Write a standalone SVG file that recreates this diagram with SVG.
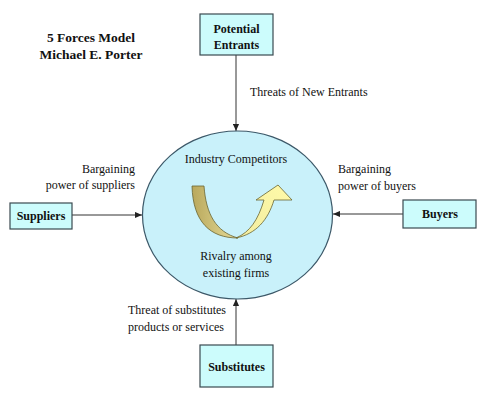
<svg xmlns="http://www.w3.org/2000/svg" width="488" height="400" viewBox="0 0 488 400">
<style>
text{font-family:"Liberation Serif","Times New Roman",serif;fill:#111;}
.b{font-weight:bold;font-size:12px;text-anchor:middle;}
.t{font-weight:bold;font-size:13.5px;text-anchor:middle;}
.l{font-size:12px;}
.box{fill:#ccfcfc;stroke:#3a4a50;stroke-width:1.2;}
.con{stroke:#333;stroke-width:1;fill:none;marker-end:url(#ah);}
</style>
<defs>
<marker id="ah" viewBox="0 0 8 8" refX="8" refY="4" markerWidth="7" markerHeight="7" markerUnits="userSpaceOnUse" orient="auto"><path d="M0,0.5 L8,4 L0,7.5 Z" fill="#222"/></marker>
<linearGradient id="g1" x1="0" y1="0" x2="1" y2="0"><stop offset="0" stop-color="#b9a85c"/><stop offset="1" stop-color="#e6dc98"/></linearGradient>
<linearGradient id="g2" x1="0" y1="1" x2="1" y2="0"><stop offset="0" stop-color="#f2eca0"/><stop offset="1" stop-color="#fffaa8"/></linearGradient>
</defs>
<rect width="488" height="400" fill="#fff"/>
<g id="title">
<text class="t" x="91" y="42">5 Forces Model</text>
<text class="t" x="91" y="59">Michael E. Porter</text>
</g>
<g id="connectors">
<line class="con" x1="236" y1="55" x2="236" y2="131"/>
<line class="con" x1="72" y1="215" x2="142" y2="215"/>
<line class="con" x1="403" y1="214" x2="333" y2="214"/>
<line class="con" x1="236" y1="345" x2="236" y2="299"/>
</g>
<g id="industry">
<ellipse cx="237.5" cy="215" rx="95" ry="84" fill="#c9f1fa" stroke="#3c5868" stroke-width="1.2"/>
<text class="l" x="236" y="163" text-anchor="middle">Industry Competitors</text>
<path d="M192,186 L204,186 C206,214 216,232 238,238 C210,238 193,222 192,186 Z" fill="url(#g1)" stroke="#6a6430" stroke-width="0.8"/>
<path d="M236,238 C256,234 268,220 274,200 L292,200 L278,185 L256,200 L264,200 C258,220 250,232 236,238 Z" fill="url(#g2)" stroke="#6a6430" stroke-width="0.8"/>
<text class="l" x="236" y="260" text-anchor="middle">Rivalry among</text>
<text class="l" x="236" y="277" text-anchor="middle">existing firms</text>
</g>
<g id="entrants">
<rect class="box" x="200" y="14" width="73" height="41"/>
<text class="b" x="236.5" y="33">Potential</text>
<text class="b" x="236.5" y="49">Entrants</text>
<text class="l" x="250" y="96">Threats of New Entrants</text>
</g>
<g id="suppliers">
<rect class="box" x="10" y="203" width="62" height="26"/>
<text class="b" x="41" y="220">Suppliers</text>
<text class="l" x="135" y="173" text-anchor="end">Bargaining</text>
<text class="l" x="135" y="189" text-anchor="end">power of suppliers</text>
</g>
<g id="buyers">
<rect class="box" x="403" y="200" width="73" height="28"/>
<text class="b" x="440" y="218">Buyers</text>
<text class="l" x="338" y="173">Bargaining</text>
<text class="l" x="338" y="190">power of buyers</text>
</g>
<g id="substitutes">
<rect class="box" x="200" y="345" width="73" height="42"/>
<text class="b" x="236.5" y="371">Substitutes</text>
<text class="l" x="128" y="314">Threat of substitutes</text>
<text class="l" x="128" y="331">products or services</text>
</g>
</svg>
